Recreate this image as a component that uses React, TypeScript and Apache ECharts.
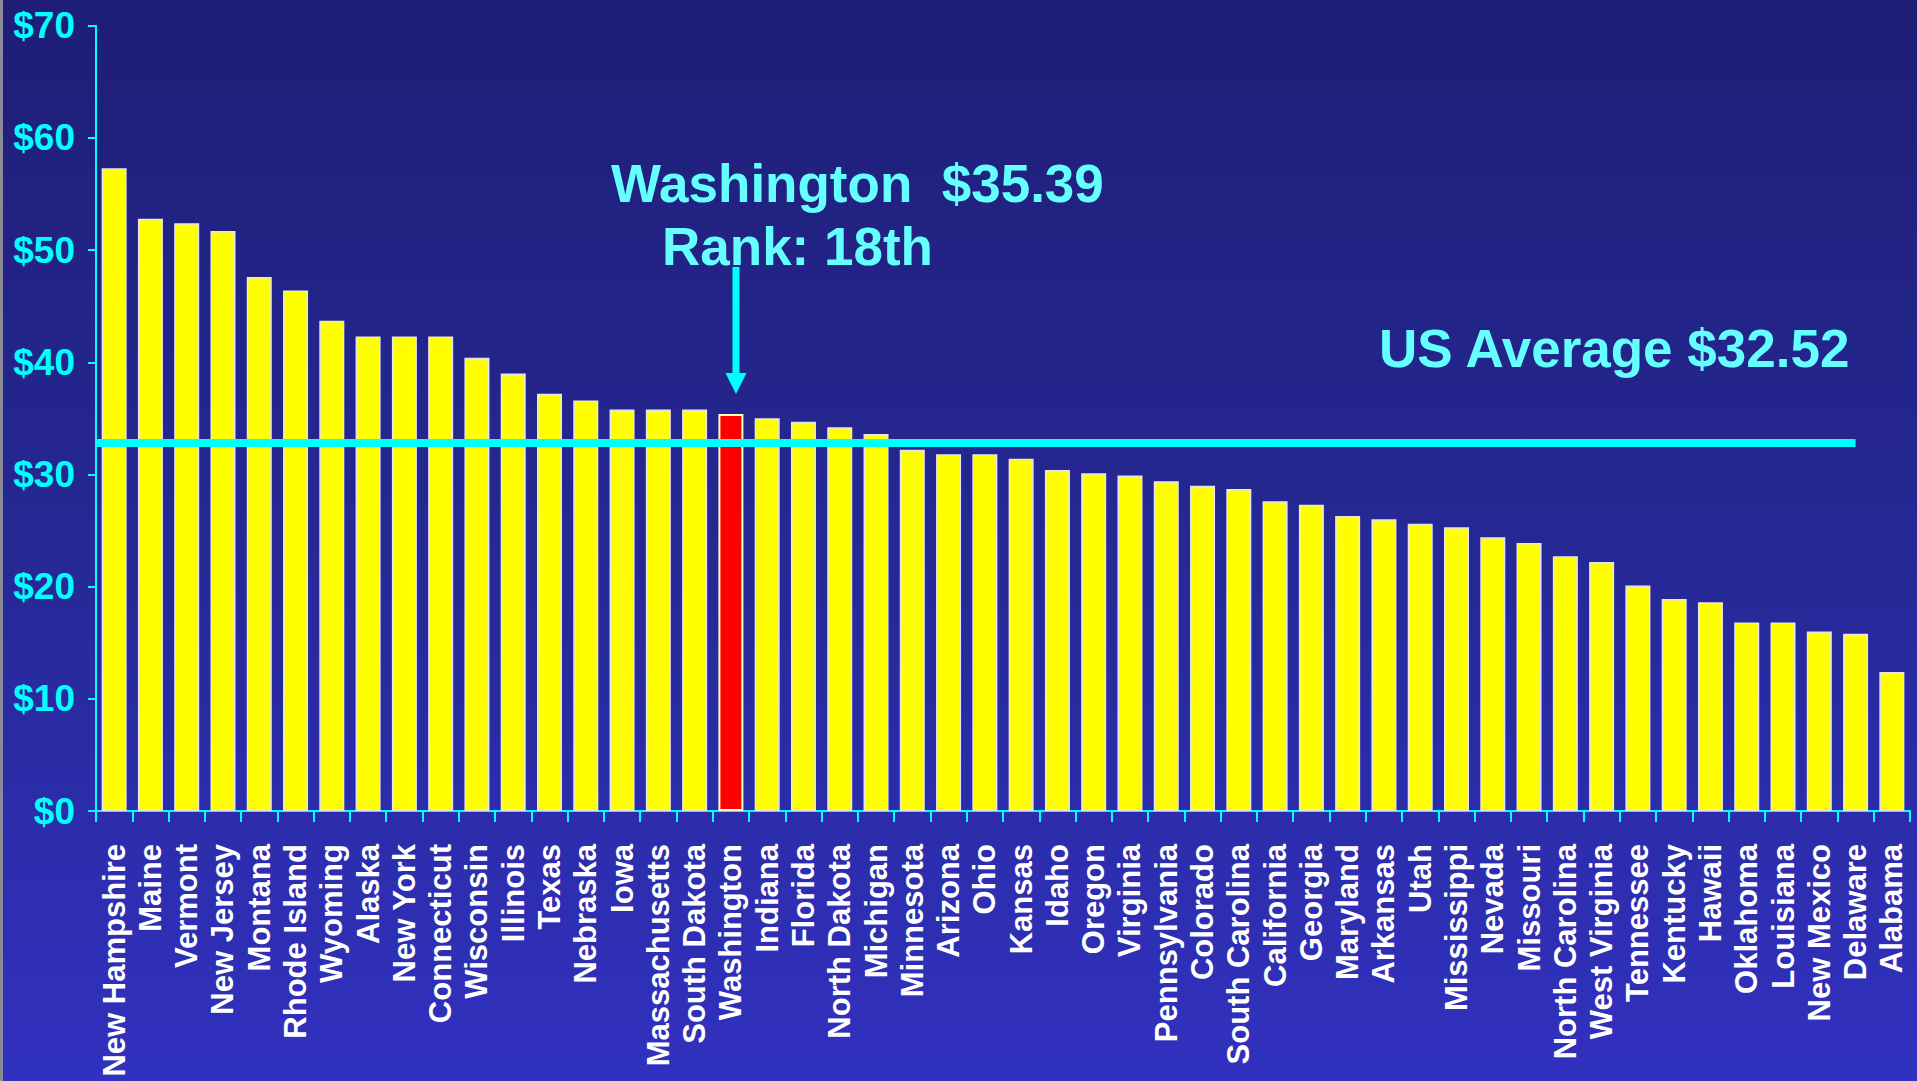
import React, { useEffect, useRef } from "react";
import * as echarts from "echarts";

const states: string[] = [
  "New Hampshire", "Maine", "Vermont", "New Jersey", "Montana", "Rhode Island",
  "Wyoming", "Alaska", "New York", "Connecticut", "Wisconsin", "Illinois",
  "Texas", "Nebraska", "Iowa", "Massachusetts", "South Dakota", "Washington",
  "Indiana", "Florida", "North Dakota", "Michigan", "Minnesota", "Arizona",
  "Ohio", "Kansas", "Idaho", "Oregon", "Virginia", "Pennsylvania", "Colorado",
  "South Carolina", "California", "Georgia", "Maryland", "Arkansas", "Utah",
  "Mississippi", "Nevada", "Missouri", "North Carolina", "West Virginia",
  "Tennessee", "Kentucky", "Hawaii", "Oklahoma", "Louisiana", "New Mexico",
  "Delaware", "Alabama",
];

const values: number[] = [
  57.3, 52.8, 52.4, 51.7, 47.6, 46.4, 43.7, 42.3, 42.3, 42.3, 40.4, 39.0,
  37.2, 36.6, 35.8, 35.8, 35.8, 35.39, 35.0, 34.7, 34.2, 33.6, 32.2, 31.8,
  31.8, 31.4, 30.4, 30.1, 29.9, 29.4, 29.0, 28.7, 27.6, 27.3, 26.3, 26.0,
  25.6, 25.3, 24.4, 23.9, 22.7, 22.2, 20.1, 18.9, 18.6, 16.8, 16.8, 16.0,
  15.8, 12.4,
];

const highlightState = "Washington";
const averageLineValue = 32.8;
const averageLineExtent: [number, number] = [0, 48.5];
const yTicks = { min: 0, max: 70, interval: 10 };

const annotationTitle = "Washington  $35.39";
const annotationRank = "Rank: 18th";
const averageLabel = "US Average $32.52";

const FONT = '"Liberation Sans", Arial, Helvetica, sans-serif';

export default function App() {
  const ref = useRef<HTMLDivElement>(null);

  useEffect(() => {
    document.body.style.margin = "0";
    if (!ref.current) return;
    const chart = echarts.init(ref.current, undefined, { renderer: "svg" });

    const barData = values.map((v, i) => ({
      value: v,
      itemStyle:
        states[i] === highlightState
          ? { color: "#ff0000", borderColor: "#ffffc8", borderWidth: 2 }
          : { color: "#ffff00", borderColor: "#e6e6ee", borderWidth: 1.5 },
    }));

    chart.setOption({
      animation: false,
      backgroundColor: {
        type: "linear",
        x: 0,
        y: 0,
        x2: 0,
        y2: 1,
        colorStops: [
          { offset: 0, color: "#1e1e76" },
          { offset: 0.5, color: "#262894" },
          { offset: 1, color: "#3131c0" },
        ],
      },
      textStyle: { fontFamily: FONT },
      grid: {
        left: 96,
        right: 7,
        top: 25.7,
        bottom: 270,
        containLabel: false,
        outerBoundsMode: "none",
      },
      xAxis: [
        {
          type: "category",
          data: states,
          boundaryGap: true,
          axisLine: { lineStyle: { color: "#00ffff", width: 2 } },
          axisTick: {
            show: true,
            alignWithLabel: false,
            length: 11,
            lineStyle: { color: "#00ffff", width: 2 },
          },
          axisLabel: {
            interval: 0,
            rotate: 90,
            margin: 33,
            color: "#ffffff",
            fontSize: 31,
            fontWeight: "bold",
            fontFamily: FONT,
          },
          splitLine: { show: false },
        },
        {
          type: "value",
          min: 0,
          max: 50,
          show: false,
          position: "top",
        },
      ],
      yAxis: {
        type: "value",
        min: yTicks.min,
        max: yTicks.max,
        interval: yTicks.interval,
        axisLine: { show: true, lineStyle: { color: "#00ffff", width: 2 } },
        axisTick: {
          show: true,
          inside: false,
          length: 8,
          lineStyle: { color: "#00ffff", width: 2 },
        },
        splitLine: { show: false },
        axisLabel: {
          margin: 21,
          color: "#00ffff",
          fontSize: 37,
          fontWeight: "bold",
          fontFamily: FONT,
          formatter: (v: number) => "$" + v,
        },
      },
      series: [
        {
          type: "bar",
          data: barData,
          barWidth: 25,
          xAxisIndex: 0,
        },
        {
          type: "line",
          xAxisIndex: 1,
          data: [
            [averageLineExtent[0], averageLineValue],
            [averageLineExtent[1], averageLineValue],
          ],
          symbol: "none",
          lineStyle: { color: "#00ffff", width: 8 },
          z: 5,
        },
      ],
      graphic: [
        {
          type: "rect",
          shape: { x: 0, y: 0, width: 3, height: 1081 },
          style: { fill: "#8a8a9a" },
          z: 100,
        },
        {
          type: "line",
          shape: { x1: 736, y1: 267, x2: 736, y2: 375 },
          style: { stroke: "#00ffff", lineWidth: 7 },
          z: 100,
        },
        {
          type: "polygon",
          shape: { points: [[725.5, 373], [746.5, 373], [736, 394]] },
          style: { fill: "#00ffff" },
          z: 100,
        },
        {
          type: "text",
          x: 611,
          y: 183,
          style: {
            text: annotationTitle,
            fill: "#66ffff",
            font: `bold 53px ${FONT}`,
            textAlign: "left",
            textVerticalAlign: "middle",
          },
          z: 100,
        },
        {
          type: "text",
          x: 662,
          y: 246.5,
          style: {
            text: annotationRank,
            fill: "#66ffff",
            font: `bold 53px ${FONT}`,
            textAlign: "left",
            textVerticalAlign: "middle",
          },
          z: 100,
        },
        {
          type: "text",
          x: 1379,
          y: 348,
          style: {
            text: averageLabel,
            fill: "#66ffff",
            font: `bold 53px ${FONT}`,
            textAlign: "left",
            textVerticalAlign: "middle",
          },
          z: 100,
        },
      ],
    });

    return () => chart.dispose();
  }, []);

  return (
    <div
      ref={ref}
      style={{ position: "absolute", left: 0, top: 0, width: 1917, height: 1081 }}
    />
  );
}
